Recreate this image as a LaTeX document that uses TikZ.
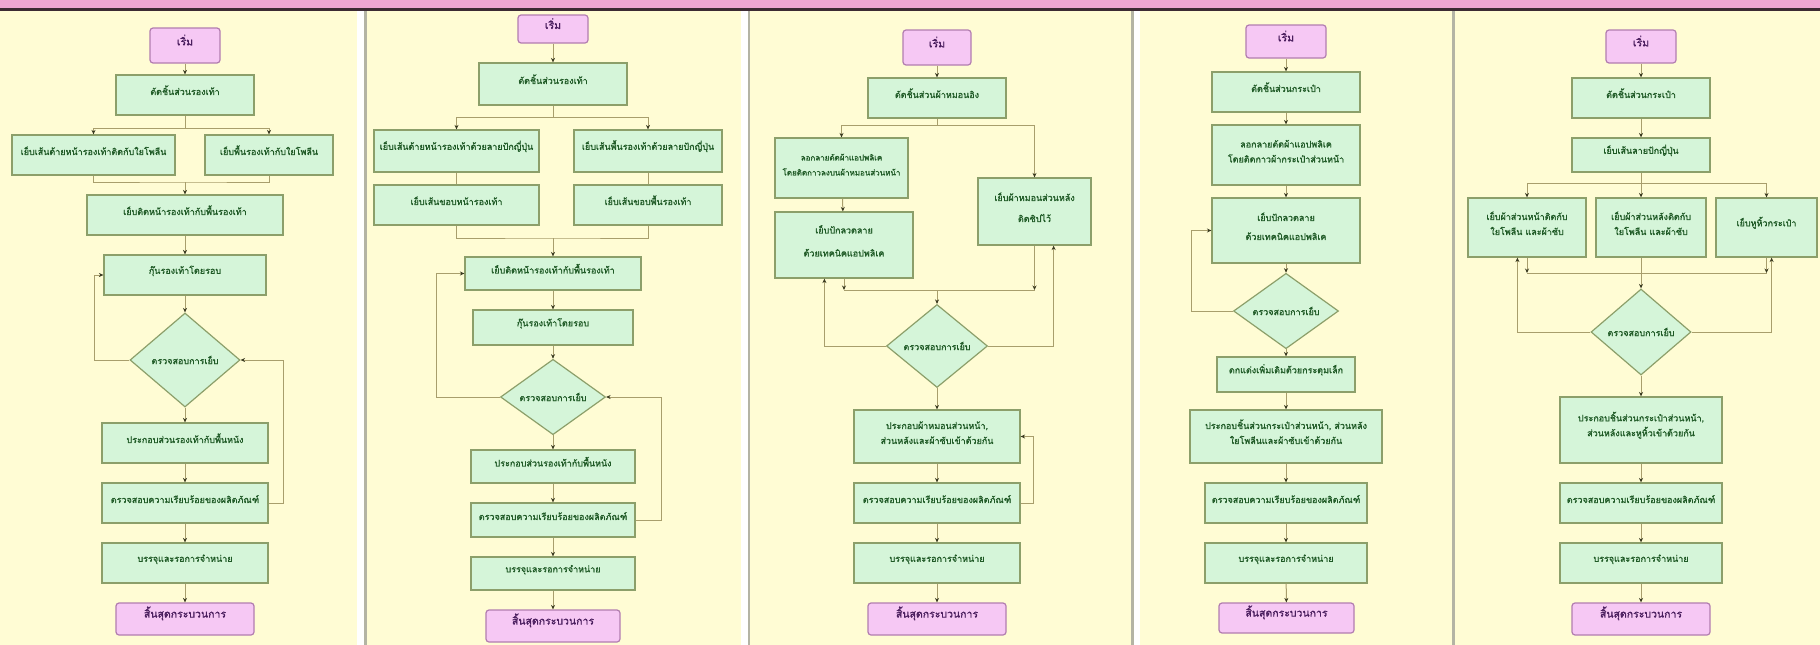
\documentclass[tikz,border=0pt]{standalone}
\usepackage{fontspec}
\newfontfamily\thai[Script=Thai, FakeBold=1.3]{Loma}
\usetikzlibrary{shapes.geometric,arrows.meta,fit}
\definecolor{bgc}{HTML}{FFFCD4}
\definecolor{hdrc}{HTML}{EFA6D3}
\definecolor{hdrline}{HTML}{3C2A33}
\definecolor{sepc}{HTML}{B4B4A4}
\definecolor{boxf}{HTML}{D5F5D9}
\definecolor{boxc}{HTML}{8C9F6A}
\definecolor{pinkf}{HTML}{F6C8F4}
\definecolor{pinkd}{HTML}{B27DB0}
\definecolor{linec}{HTML}{A89E6C}
\definecolor{arrc}{HTML}{3A3A20}
\definecolor{txtc}{HTML}{1F5A26}
\definecolor{ptxt}{HTML}{4A1E5E}
\tikzset{
  gbox/.style={draw=boxc, fill=boxf, line width=1.2pt, inner sep=0pt, align=center,
    text=txtc, font=\thai\fontsize{9}{15}\selectfont},
  smallbox/.style={gbox, font=\thai\fontsize{8}{15}\selectfont},
  pbox/.style={draw=pinkd, fill=pinkf, rounded corners=3pt, line width=1.2pt, inner sep=0pt,
    text=ptxt, font=\thai\fontsize{10.5}{12}\selectfont},
  dbox/.style={diamond, draw=boxc, fill=boxf, line width=1.2pt, inner sep=0pt,
    text=txtc, font=\thai\fontsize{9}{12}\selectfont},
  con/.style={draw=linec, line width=1pt},
  arr/.style={con, -{Stealth[length=4.5pt,width=4pt,color=arrc]}},
}
\newcommand\bx[7][gbox]{\node[#1, fit={(#3,#4) (#5,#6)}] (#2) {#7};}
\begin{document}
\begin{tikzpicture}[x=1pt,y=-1pt]
\useasboundingbox (0,0) rectangle (1820,645);
% background
\fill[bgc] (0,0) rectangle (1820,645);
\fill[hdrc] (0,0) rectangle (1820,8);
\fill[hdrline] (0,8) rectangle (1820,11);
\fill[white] (357,11) rectangle (364,645);
\fill[sepc] (364,11) rectangle (366.5,645);
\fill[white] (741,11) rectangle (747.5,645);
\fill[sepc] (747.5,11) rectangle (750,645);
\fill[sepc] (1131,11) rectangle (1133.5,645);
\fill[white] (1133.5,11) rectangle (1140,645);
\fill[sepc] (1452,11) rectangle (1454.5,645);

% ================= Panel 1 =================
\bx[pbox]{s1}{150}{28}{220}{63}{เริ่ม}
\bx{a1}{116}{75}{254}{115}{ตัดชิ้นส่วนรองเท้า}
\bx{l1}{12}{135}{175}{175}{เย็บเส้นด้ายหน้ารองเท้าติดกับใยโพลีน}
\bx{r1}{205}{135}{333}{175}{เย็บพื้นรองเท้ากับใยโพลีน}
\bx{a2}{87}{195}{283}{235}{เย็บติดหน้ารองเท้ากับพื้นรองเท้า}
\bx{a3}{104}{255}{266}{295}{กุ๊นรองเท้าโดยรอบ}
\node[dbox, minimum width=110pt, minimum height=94pt] (d1) at (185,360) {ตรวจสอบการเย็บ};
\bx{a4}{102}{423}{268}{463}{ประกอบส่วนรองเท้ากับพื้นหนัง}
\bx{a5}{102}{483}{268}{523}{ตรวจสอบความเรียบร้อยของผลิตภัณฑ์}
\bx{a6}{102}{543}{268}{583}{บรรจุและรอการจำหน่าย}
\bx[pbox]{e1}{116}{603}{254}{635}{สิ้นสุดกระบวนการ}
\coordinate (sp1) at (185,128);
\coordinate (mg1) at (185,182);
\draw[arr] (s1) -- (a1);
\draw[arr] (a1.south) -- (sp1) -| (l1.north);
\draw[arr] (sp1) -| (r1.north);
\draw[con] (l1.south) |- (mg1) -| (r1.south);
\draw[arr] (mg1) -- (a2.north);
\draw[arr] (a2) -- (a3);
\draw[arr] (a3) -- (d1);
\draw[arr] (d1.west) -- ++(-35,0) |- (a3.west);
\draw[arr] (d1) -- (a4);
\draw[arr] (a4) -- (a5);
\draw[arr] (a5.east) -- ++(15,0) |- (d1.east);
\draw[arr] (a5) -- (a6);
\draw[arr] (a6) -- (e1);

% ================= Panel 2 =================
\bx[pbox]{s2}{518}{15}{588}{43}{เริ่ม}
\bx{b1}{479}{63}{627}{105}{ตัดชิ้นส่วนรองเท้า}
\bx{bl1}{374}{130}{539}{172}{เย็บเส้นด้ายหน้ารองเท้าด้วยลายปักญี่ปุ่น}
\bx{br1}{574}{130}{722}{172}{เย็บเส้นพื้นรองเท้าด้วยลายปักญี่ปุ่น}
\bx{bl2}{374}{185}{539}{225}{เย็บเส้นขอบหน้ารองเท้า}
\bx{br2}{574}{185}{722}{225}{เย็บเส้นขอบพื้นรองเท้า}
\bx{b2}{465}{257}{641}{290}{เย็บติดหน้ารองเท้ากับพื้นรองเท้า}
\bx{b3}{473}{310}{633}{345}{กุ๊นรองเท้าโดยรอบ}
\node[dbox, minimum width=105pt, minimum height=65pt] (d2) at (553,397) {ตรวจสอบการเย็บ};
\bx{b4}{471}{450}{635}{483}{ประกอบส่วนรองเท้ากับพื้นหนัง}
\bx{b5}{471}{503}{635}{537}{ตรวจสอบความเรียบร้อยของผลิตภัณฑ์}
\bx{b6}{471}{557}{635}{590}{บรรจุและรอการจำหน่าย}
\bx[pbox]{e2}{486}{610}{620}{642}{สิ้นสุดกระบวนการ}
\coordinate (sp2) at (553,117);
\coordinate (mg2) at (553,238);
\draw[arr] (s2) -- (b1);
\draw[arr] (b1.south) -- (sp2) -| (bl1.north);
\draw[arr] (sp2) -| (br1.north);
\draw[con] (bl1) -- (bl2);
\draw[con] (br1) -- (br2);
\draw[con] (bl2.south) |- (mg2) -| (br2.south);
\draw[arr] (mg2) -- (b2.north);
\draw[arr] (b2) -- (b3);
\draw[arr] (b3) -- (d2);
\draw[arr] (d2.west) -- ++(-63,0) |- (b2.west);
\draw[arr] (d2) -- (b4);
\draw[arr] (b4) -- (b5);
\draw[arr] (b5.east) -- ++(26,0) |- (d2.east);
\draw[arr] (b5) -- (b6);
\draw[arr] (b6) -- (e2);

% ================= Panel 3 =================
\bx[pbox]{s3}{903}{30}{971}{65}{เริ่ม}
\bx{c1}{868}{78}{1006}{118}{ตัดชิ้นส่วนผ้าหมอนอิง}
\bx[smallbox]{cl1}{775}{138}{908}{198}{ลอกลายตัดผ้าแอปพลิเค\\โดยติดกาวลงบนผ้าหมอนส่วนหน้า}
\bx{cl2}{775}{212}{913}{278}{เย็บปักลวดลาย\\[8pt]ด้วยเทคนิคแอปพลิเค}
\bx{cr1}{978}{178}{1091}{245}{เย็บผ้าหมอนส่วนหลัง\\[6pt]ติดซิปไว้}
\node[dbox, minimum width=101pt, minimum height=83pt] (d3) at (937,346) {ตรวจสอบการเย็บ};
\bx{c4}{854}{410}{1020}{463}{ประกอบผ้าหมอนส่วนหน้า,\\ส่วนหลังและผ้าซับเข้าด้วยกัน}
\bx{c5}{854}{483}{1020}{523}{ตรวจสอบความเรียบร้อยของผลิตภัณฑ์}
\bx{c6}{854}{543}{1020}{583}{บรรจุและรอการจำหน่าย}
\bx[pbox]{e3}{868}{603}{1006}{635}{สิ้นสุดกระบวนการ}
\coordinate (sp3) at (937,125);
\coordinate (mg3) at (937,290);
\draw[arr] (s3) -- (c1);
\draw[arr] (c1.south) -- (sp3) -| (cl1.north);
\draw[arr] (sp3) -| (cr1.north);
\draw[arr] (cl1) -- (cl2);
\draw[con] (cl2.south |- mg3) -- (cr1.south |- mg3);
\draw[arr] (cl2.south) -- (cl2.south |- mg3);
\draw[arr] (cr1.south) -- (cr1.south |- mg3);
\draw[arr] (mg3) -- (d3.north);
\draw[arr] (d3.west) -| ([xshift=50pt]cl2.south west);
\draw[arr] (d3.east) -| ([xshift=-38pt]cr1.south east);
\draw[arr] (d3) -- (c4);
\draw[arr] (c4) -- (c5);
\draw[arr] (c5.east) -- ++(13,0) |- (c4.east);
\draw[arr] (c5) -- (c6);
\draw[arr] (c6) -- (e3);

% ================= Panel 4 =================
\bx[pbox]{s4}{1246}{25}{1326}{58}{เริ่ม}
\bx{f1}{1212}{72}{1360}{112}{ตัดชิ้นส่วนกระเป๋า}
\bx{f2}{1212}{125}{1360}{185}{ลอกลายตัดผ้าแอปพลิเค\\โดยติดกาวผ้ากระเป๋าส่วนหน้า}
\bx{f3}{1212}{198}{1360}{263}{เย็บปักลวดลาย\\[4pt]ด้วยเทคนิคแอปพลิเค}
\node[dbox, minimum width=105pt, minimum height=66pt] (d4) at (1286,311) {ตรวจสอบการเย็บ};
\bx{f4}{1217}{357}{1355}{392}{ตกแต่งเพิ่มเติมด้วยกระดุมเล็ก}
\bx{f5}{1190}{410}{1382}{463}{ประกอบชิ้นส่วนกระเป๋าส่วนหน้า, ส่วนหลัง\\ใยโพลีนและผ้าซับเข้าด้วยกัน}
\bx{f6}{1205}{483}{1367}{523}{ตรวจสอบความเรียบร้อยของผลิตภัณฑ์}
\bx{f7}{1205}{543}{1367}{583}{บรรจุและรอการจำหน่าย}
\bx[pbox]{e4}{1219}{603}{1354}{633}{สิ้นสุดกระบวนการ}
\draw[arr] (s4) -- (f1);
\draw[arr] (f1) -- (f2);
\draw[arr] (f2) -- (f3);
\draw[arr] (f3) -- (d4);
\draw[arr] (d4.west) -- ++(-41,0) |- (f3.west);
\draw[arr] (d4) -- (f4);
\draw[arr] (f4) -- (f5);
\draw[arr] (f5) -- (f6);
\draw[arr] (f6) -- (f7);
\draw[arr] (f7) -- (e4);

% ================= Panel 5 =================
\bx[pbox]{s5}{1606}{30}{1676}{63}{เริ่ม}
\bx{g1}{1572}{78}{1710}{118}{ตัดชิ้นส่วนกระเป๋า}
\bx{g2}{1572}{138}{1710}{172}{เย็บเส้นลายปักญี่ปุ่น}
\bx{gl}{1468}{198}{1586}{257}{เย็บผ้าส่วนหน้าติดกับ\\ใยโพลีน และผ้าซับ}
\bx{gm}{1596}{198}{1706}{257}{เย็บผ้าส่วนหลังติดกับ\\ใยโพลีน และผ้าซับ}
\bx{gr}{1716}{198}{1817}{257}{เย็บหูหิ้วกระเป๋า}
\node[dbox, minimum width=100pt, minimum height=86pt] (d5) at (1641,332) {ตรวจสอบการเย็บ};
\bx{g3}{1560}{397}{1722}{463}{ประกอบชิ้นส่วนกระเป๋าส่วนหน้า,\\ส่วนหลังและหูหิ้วเข้าด้วยกัน}
\bx{g4}{1560}{483}{1722}{523}{ตรวจสอบความเรียบร้อยของผลิตภัณฑ์}
\bx{g5}{1560}{543}{1722}{583}{บรรจุและรอการจำหน่าย}
\bx[pbox]{e5}{1572}{603}{1710}{635}{สิ้นสุดกระบวนการ}
\coordinate (sp5) at (1641,183);
\coordinate (mg5) at (1641,273);
\draw[arr] (s5) -- (g1);
\draw[arr] (g1) -- (g2);
\draw[con] (g2.south) -- (sp5);
\draw[arr] (sp5) -| (gl.north);
\draw[arr] (sp5) -| (gr.north);
\draw[arr] (sp5) -- (gm.north -| sp5);
\draw[con] (gl.south |- mg5) -- (gr.south |- mg5);
\draw[arr] (gl.south) -- (gl.south |- mg5);
\draw[arr] (gr.south) -- (gr.south |- mg5);
\draw[con] (gm.south -| mg5) -- (mg5);
\draw[arr] (mg5) -- (d5.north);
\draw[arr] (d5.west) -| ([xshift=50pt]gl.south west);
\draw[arr] (d5.east) -| ([xshift=-46pt]gr.south east);
\draw[arr] (d5) -- (g3);
\draw[arr] (g3) -- (g4);
\draw[arr] (g4) -- (g5);
\draw[arr] (g5) -- (e5);
\end{tikzpicture}
\end{document}
